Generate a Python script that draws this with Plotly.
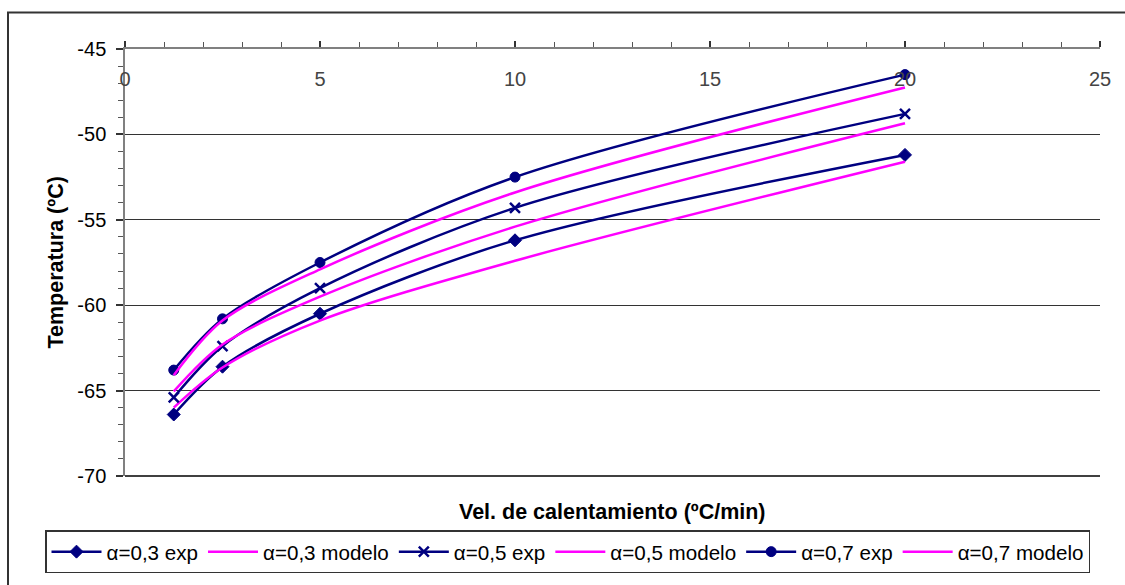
import plotly.graph_objects as go

# Heating rate (ºC/min)
vel = [1.25, 2.5, 5, 10, 20]

# Experimental temperatures (ºC) for each conversion degree
exp_03 = [-66.4, -63.6, -60.5, -56.2, -51.2]
exp_05 = [-65.4, -62.4, -59.0, -54.3, -48.8]
exp_07 = [-63.8, -60.8, -57.5, -52.5, -46.5]

# Model temperatures (ºC)
mod_03 = [-66.0, -63.65, -60.9, -57.4, -51.6]
mod_05 = [-65.05, -62.3, -59.5, -55.4, -49.35]
mod_07 = [-64.1, -60.9, -57.9, -53.4, -47.25]

# Axis ticks
x_ticks = [0, 5, 10, 15, 20, 25]
x_labels = ["0", "5", "10", "15", "20", "25"]
y_ticks = [-70, -65, -60, -55, -50, -45]
y_labels = ["-70", "-65", "-60", "-55", "-50", "-45"]

NAVY = "#000080"
MAGENTA = "#FF00FF"
FONT = "Liberation Sans, Arial, sans-serif"
FS = 20
FS_LEG = 20.6
FS_TITLE = 21.5

fig = go.Figure()

series = [
    ("α=0,3 exp", exp_03, "diamond", 10, 1),
    ("α=0,3 modelo", mod_03, None, 0, 0),
    ("α=0,5 exp", exp_05, "x-thin", 10, 2.5),
    ("α=0,5 modelo", mod_05, None, 0, 0),
    ("α=0,7 exp", exp_07, "circle", 10, 1),
    ("α=0,7 modelo", mod_07, None, 0, 0),
]

for name, ys, sym, size, mlw in series:
    if sym:
        fig.add_trace(go.Scatter(
            x=vel, y=ys, name=name, mode="lines+markers",
            line=dict(color=NAVY, width=2.5, shape="spline", smoothing=0.9),
            marker=dict(symbol=sym, size=size, color=NAVY,
                        line=dict(color=NAVY, width=mlw)),
        ))
    else:
        fig.add_trace(go.Scatter(
            x=vel, y=ys, name=name, mode="lines",
            line=dict(color=MAGENTA, width=2.5, shape="spline", smoothing=0.9),
        ))

# Plot area: x 125..1100 px, y 49..482 px
L, R, T, B = 125, 25, 49, 103
W, H = 1125, 585
pw, ph = W - L - R, H - T - B

def px_x(p):
    return (p - L) / pw

def px_y(p):
    return (H - B - p) / ph

fig.update_layout(
    width=W, height=H,
    margin=dict(l=L, r=R, t=T, b=B, pad=0),
    paper_bgcolor="white", plot_bgcolor="white",
    font=dict(family=FONT, size=FS, color="black"),
    showlegend=True,
    legend=dict(
        orientation="h",
        x=px_x(45), xanchor="left",
        y=px_y(537), yanchor="top",
        bordercolor="#333333", borderwidth=1.5,
        bgcolor="white",
        font=dict(size=FS_LEG),
        itemwidth=50,
        tracegroupgap=0,
    ),
    xaxis=dict(
        range=[0, 25], side="top",
        tickmode="array", tickvals=x_ticks, ticktext=x_labels,
        showgrid=False, zeroline=False,
        showline=True, linecolor="#808080", linewidth=1.5,
        ticks="outside", ticklen=6, tickcolor="#333333", tickwidth=1.5,
        minor=dict(ticks="outside", tickmode="linear", tick0=0, dtick=1,
                   ticklen=5, tickcolor="#555555", tickwidth=1),
        ticklabelposition="inside",
        ticklabeloverflow="allow",
        ticklabelstandoff=24,
        tickfont=dict(size=FS),
    ),
    yaxis=dict(
        range=[-70, -45],
        tickmode="array", tickvals=y_ticks, ticktext=y_labels,
        showgrid=True, gridcolor="#333333", gridwidth=1.2,
        zeroline=False,
        showline=True, linecolor="#808080", linewidth=1.5,
        ticks="outside", ticklen=7, tickcolor="#333333", tickwidth=1.5,
        minor=dict(ticks="outside", tickmode="linear", tick0=-70, dtick=1,
                   ticklen=5, tickcolor="#555555", tickwidth=1,
                   showgrid=False),
        ticklabeloverflow="allow",
        ticklabelstandoff=6,
        tickfont=dict(size=FS),
    ),
    annotations=[
        dict(text="<b>Vel. de calentamiento (ºC/min)</b>",
             xref="paper", yref="paper", x=0.5, y=px_y(518),
             xanchor="center", yanchor="middle", showarrow=False,
             font=dict(size=FS_TITLE)),
        dict(text="<b>Temperatura (ºC)</b>",
             xref="paper", yref="paper", x=px_x(55), y=0.5,
             xanchor="center", yanchor="middle", showarrow=False,
             textangle=-90, font=dict(size=FS_TITLE)),
    ],
    shapes=[
        # bottom edge line of plot area
        dict(type="line", xref="paper", yref="paper", x0=0, x1=1, y0=0, y1=0,
             line=dict(color="black", width=1.5)),
        # chart frame
        dict(type="rect", xref="paper", yref="paper",
             x0=px_x(8), x1=px_x(1200), y0=px_y(650), y1=px_y(12),
             line=dict(color="#333333", width=2), layer="above"),
    ],
)

fig.write_html("out.html")
